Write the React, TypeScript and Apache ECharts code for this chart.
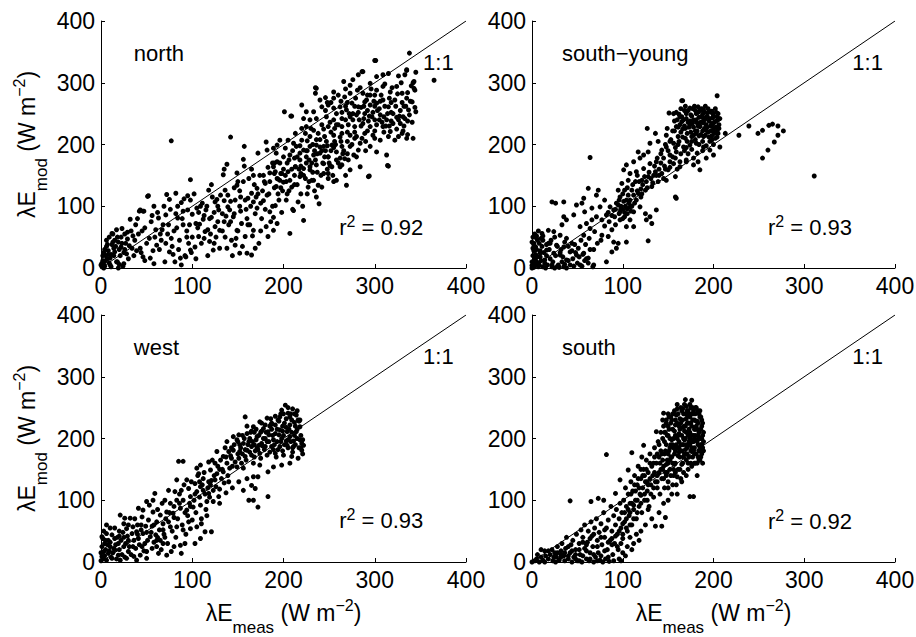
import React, { useEffect, useRef } from 'react';
import * as echarts from 'echarts';

const panelNames = ['north', 'south−young', 'west', 'south'];
const r2Values = ['0.92', '0.93', '0.93', '0.92'];
const tickValues = [0, 100, 200, 300, 400];
const oneToOne = [[0, 0], [400, 400]];
const xAxisTitle = '{a|λE}{sub|meas}{a| (W m}{sup|−2}{a|)}';
const yAxisTitle = '{a|λE}{sub|mod}{a| (W m}{sup|−2}{a|)}';

const northPts = [
[0,5],[2,12],[3,0],[5,20],[1,8],[4,3],[7,15],[8,28],[10,5],[12,38],[14,20],[6,35],[15,45],[18,10],[20,30],[22,50],[25,25],[27,40],[30,15],[9,50],[13,55],[17,62],[3,25],[11,2],[19,0],[24,3],[1,2],[3,9],[6,45],[10,16],[12,56],[15,26],[17,10],[22,34],[23,64],[25,7],[28,23],[32,79],[34,32],[37,45],[43,32],[43,94],[46,92],[46,18],[42,92],[47,92],[51,116],[52,117],[54,16],[58,7],[58,100],[61,37],[63,81],[65,55],[71,40],[71,86],[72,119],[75,26],[75,111],[77,206],[81,10],[82,88],[82,121],[84,81],[87,16],[88,5],[88,106],[90,92],[93,18],[95,94],[95,117],[98,29],[98,110],[98,143],[100,87],[103,34],[105,97],[107,51],[107,90],[108,71],[112,79],[114,59],[115,94],[116,100],[118,126],[119,43],[119,80],[122,115],[123,29],[125,67],[125,107],[127,111],[129,94],[130,32],[130,61],[134,151],[135,75],[135,109],[135,160],[136,126],[137,84],[138,32],[138,168],[139,99],[141,94],[142,212],[143,45],[145,83],[147,37],[147,110],[149,61],[149,134],[149,154],[152,24],[152,100],[152,125],[154,72],[156,176],[157,165],[157,197],[158,51],[160,24],[160,80],[161,113],[165,21],[165,121],[165,160],[167,61],[167,107],[169,32],[171,97],[171,129],[172,186],[173,40],[176,80],[178,109],[180,95],[180,137],[181,67],[181,204],[182,191],[183,51],[183,163],[185,91],[185,154],[189,61],[189,82],[189,194],[190,153],[191,101],[192,132],[192,186],[193,72],[194,144],[195,110],
[197,153],[200,139],[201,253],[203,110],[207,56],[208,246],[209,131],[211,93],[213,164],[216,107],[219,120],[219,153],[222,77],[227,131],[229,164],[231,142],[236,115],[238,134],[239,104],[240,196],[242,131],[249,153],[249,180],[251,166],[258,142],[258,188],[262,164],[269,134],
[338,348],[300,336],[286,318],[282,313],[266,302],[276,305],[273,296],[295,299],[302,310],[309,313],[315,315],[326,311],[333,313],[335,321],[343,302],[343,291],[236,291],[235,283],[246,276],[255,275],[260,280],[267,277],[273,283],[281,288],[287,283],[295,280],[302,288],[309,294],[317,285],[324,294],[330,283],[335,275],[341,269],[345,253],[337,256],[331,245],[326,240],[320,250],[315,261],[309,272],[302,267],[295,264],[289,269],[282,261],[275,267],[269,256],[262,261],[255,259],[249,264],[240,272],[242,261],[233,253],[225,253],[220,264],[209,246],[222,242],[229,240],[236,242],[247,245],[255,240],[264,242],[273,245],[280,248],[289,250],[297,245],[306,248],[313,240],[320,234],[328,234],[333,242],[330,218],[326,213],[335,210],[317,221],[309,229],[302,232],[295,229],[287,234],[278,229],[271,232],[264,229],[256,226],[249,229],[242,232],[233,223],[225,229],[220,226],[213,218],[205,207],[196,207],[193,199],[202,194],[211,202],[220,207],[229,213],[238,218],[245,213],[255,215],[264,218],[273,215],[280,213],[289,218],[298,215],[306,207],[315,213],[322,207],[313,183],[315,165],[294,149],[302,188],[295,197],[282,191],[284,202],[273,197],[264,197],[258,175],[253,199],[244,197],[236,199],[229,197],[222,191],[214,197],[207,183],[200,180],[193,172],[218,175],[225,180],[233,183],[240,186],[249,180],[267,177],[277,183],[284,164],[273,159],[264,167],[253,164],[244,169],[236,167],[229,159],[222,161],[213,164],[205,156],[198,153],[196,142],[207,142],[218,148],[233,142],[244,153],[255,140],[249,145],[191,156],[189,164],
[365,304],[344,288],[342,300],[345,317],[335,320],[301,336],[287,318],[235,292],[293,148],[314,166],[342,210],[336,216],
[285,260],[292,255],[298,252],[305,258],[311,262],[318,268],[323,262],[328,255],[332,262],[338,248],[300,240],[293,238],[310,245],[318,238],[283,240],[276,250],[268,240],[260,232],[252,220],[247,205],[240,208],[232,200],[226,190],[218,186],[212,178],[226,206],[270,205],[278,210],[290,205],[300,222],[310,220],[290,190],[280,180],[270,185],[262,178],[250,170],
[5,12],[8,22],[14,32],[19,42],[21,20],[26,55],[29,47],[33,60],[36,20],[38,70],[41,55],[44,25],[48,65],[50,40],[53,48],[55,75],[57,28],[60,62],[62,90],[66,45],[68,70],[70,10],[73,55],[76,95],[78,35],[80,60],[84,100],[86,45],[90,70],[92,20],[94,60],[96,40],[100,50],[102,120],[104,15],[106,65],[110,40],[111,105],[113,85],[117,20],[120,55],[121,135],[124,90],[126,50],[128,75],[131,118],[133,60],[140,70],[142,108],[144,20],[146,88],[148,48],[150,140],[153,115],[155,35],[159,95],[162,145],[163,70],[166,52],[168,135],[170,115],[174,150],[175,60],[177,125],[179,140],[184,120],[186,75],[188,170],[190,130],[194,120],[196,170],[198,90],[199,125],[202,150],[204,120],[206,175],[210,95],[212,150],[215,135],[217,160],[221,100],[224,145],[226,120],[228,175],[232,155],[234,125],[237,185],[241,150],[243,170],[246,190],[248,160],[252,190],[254,150],[257,200],[260,170],[263,205],[266,190],[268,150],[271,175],
[244,225],[251,236],[258,250],[263,270],[268,262],[272,250],[279,275],[284,292],[288,242],[291,272],[296,290],[299,270],[303,255],[307,280],[311,298],[314,250],[316,275],[319,292],[322,272],[325,282],[327,246],[329,300],[332,230],[334,262],[336,284],[339,270],[341,236],[344,260],[340,295],[331,222],[324,225],[316,230],[308,236],[300,210],[292,222],[286,210],[278,220],[270,220],[262,212],[256,205],[248,198],[242,190],[236,208],[230,226],[224,218],[218,198],[210,190],[204,170],[246,255],[252,268],[258,232],[264,252],[270,268],[276,240],[282,252],[288,262],[294,246],[300,262],[306,270],[312,230],[318,252],[324,244],[330,268],[336,238],[292,280],[278,262],[268,290],[255,285],[248,268],[300,280],[305,240],[285,230],[275,200],[265,185],[255,195],[245,180],[235,175],[225,170],
[104,72],[109,100],[113,48],[117,62],[121,82],[124,40],[128,100],[133,88],[136,50],[139,118],[142,75],[146,130],[150,60],[153,92],[156,140],[158,110],[161,70],[164,100],[167,150],[169,88],[172,120],[175,105],[178,150],[182,118],[185,140],[188,100],[190,170],[193,145],[197,130],[200,160],[203,140],[206,125],[209,160],[212,135],[215,180],[219,165],[222,150],[225,190],[228,140],[231,170],[234,190],[237,155],
[2,20],[4,30],[7,38],[9,8],[11,22],[13,42],[16,35],[18,50],[20,6],[23,40],[26,30],[29,58],[31,36],[35,52],[39,28],[40,80],[45,60],[48,12],[56,85],[59,50],[64,30],[67,62],[69,100],[74,70],[77,48],[79,22],[83,65],[85,30],[89,80],[91,112],[94,50],[97,70],[99,25]
];

const southYoungPts = [
[0,0],[1,3],[2,8],[3,15],[4,22],[5,30],[2,38],[6,45],[1,50],[8,5],[10,12],[12,2],[6,18],[9,28],[4,34],[14,8],[16,20],[3,55],[7,60],[12,52],[18,40],[20,15],[22,2],[25,0],[28,3],[30,1],[35,2],[33,10],[38,0],[42,5],[45,15],[50,8],[55,3],[58,12],[62,8],[48,25],[0,10],[1,20],[2,28],[0,42],[3,5],[5,10],[7,2],[9,18],[11,35],[13,25],[15,0],[17,5],[19,30],[21,45],[23,10],[26,20],[29,5],[31,25],[34,18],[36,6],[40,12],[44,28],[46,3],[52,18],[56,22],[60,15],[64,30],[0,4],[2,1],[4,12],[6,6],[8,40],[10,48],[5,52],[1,32],
[2,40],[3,18],[5,48],[7,8],[9,24],[11,56],[12,45],[14,13],[16,29],[18,61],[20,40],[22,5],[24,59],[24,24],[27,37],[29,2],[31,53],[31,21],[33,70],[35,83],[35,34],[38,78],[38,48],[38,13],[42,26],[44,40],[46,86],[49,102],[49,21],[51,32],[53,67],[53,5],[55,105],[57,113],[57,53],[57,24],[58,91],[60,72],[62,129],[62,16],[64,64],[64,179],[66,97],[66,78],[68,5],[69,59],[71,118],[71,83],[73,126],[75,99],[77,78],[77,53],[80,110],[82,86],[82,10],[84,51],[86,99],[88,26],[90,94],[90,42],[91,83],[93,105],[93,32],[95,126],[95,40],[97,115],[97,91],[97,78],[99,137],[101,159],[102,126],[102,83],[104,167],[104,110],[104,67],[104,42],[106,142],[108,153],[108,99],[108,78],[110,126],[112,172],[112,91],[112,67],[114,140],[115,156],[117,188],[117,121],[119,178],[119,99],[121,142],[123,183],[123,161],[125,126],[125,88],[126,78],[127,226],[128,188],[128,148],[130,202],[130,169],[130,83],[132,132],[132,72],[136,218],[136,156],[137,172],[137,94],[139,205],[139,140],[143,191],[143,153],[145,178],[148,215],[148,196],[148,142],[149,226],[150,159],[152,183],[156,250],[156,202],[156,169],[158,148],[158,115],[159,229],[159,188],[159,113],[161,213],[162,249],[163,164],[165,237],[166,271],[167,196],[169,226],[169,210],[170,242],[170,172],[174,259],[174,232],[174,199],[176,213],[178,240],[178,167],[181,250],[181,218],[181,202],[183,261],[183,172],[185,229],[185,159],[189,256],[189,242],[189,213],[189,196],[191,242],[192,223],[192,178],[196,253],[196,191],[198,234],[198,207],[200,221],[200,183],[204,279],[204,245],[205,218],[207,196],[213,218],[22,107],[26,105],[35,107],[67,2],[128,44],
[311,149],[277,222],[271,215],[267,204],[260,191],[254,178],[249,218],[254,223],[261,231],[265,233],[271,230],[239,230],[228,215],[165,271],[151,251],
[160,240],[165,245],[170,250],[172,236],[176,246],[180,255],[184,244],[186,236],[188,249],[190,240],[193,246],[195,238],[197,230],[199,243],[201,236],[203,228],[205,240],[178,228],[182,222],[186,216],[190,226],[194,220],[198,214],[202,210],[175,220],[171,205],[180,208],[184,200],[188,205],[192,198],[196,205],[200,200],[168,190],[172,185],[176,192],[162,205],[158,195],[155,180],[150,190],[164,220],[168,230],[174,238],[161,228],[166,212],[178,215],[185,230],[192,232],[200,225],[206,232],[204,222],[188,190],[182,186],[178,178],[170,175],[163,172],[160,160],[152,163],[146,165],[140,160],[135,165],[140,150],[145,145],[133,138],[127,130],[122,135],[118,140],[112,118],[108,110],[103,100],[98,95],[95,102],[100,120],[105,130],[110,100],[115,110],[120,115],[182,235],[187,258],[194,252],[199,250],[203,252],[191,262],[183,252],[177,258],[168,255],[163,232],[157,222],[153,208],[147,200],[142,185],[138,178],[134,150],[129,155],[124,148],[120,128],[116,150],[111,135],[106,118],[101,108],[96,88],[92,70],[88,62],[85,75],[80,68],[76,45],[72,40],[68,30],[63,48],[59,38],[54,45],[47,38],[40,35],[36,42],[32,30],[28,35],[25,50],[16,38],[100,95],[102,90],[98,100],[105,96],[107,105],
[152,205],[155,222],[157,238],[159,252],[161,200],[163,245],[164,258],[166,225],[167,240],[169,262],[171,218],[172,255],[173,228],[175,248],[177,235],[179,262],[180,222],[181,240],[183,230],[184,214],[185,255],[187,245],[188,222],[189,235],[190,252],[191,215],[192,244],[193,228],[194,258],[195,212],[196,242],[197,222],[198,254],[199,232],[200,246],[201,218],[202,258],[203,238],[204,212],[205,250],[206,226],[207,242],[176,205],[170,195],[164,185],[158,178],[152,172],[147,160],[142,170],[137,150],[131,145],[126,140],[121,120],[116,125],[113,105],[109,92],[105,88],[100,80],[96,110],[92,95],[88,85],[84,90]
];

const westPts = [
[202,254],[198,246],[205,241],[214,238],[216,230],[196,235],[191,236],[182,233],[158,235],[174,227],[187,225],[207,222],[218,219],[214,211],[204,211],[196,214],[191,208],[183,211],[178,216],[167,219],[160,208],[151,206],[145,203],[138,195],[149,198],[156,192],[163,200],[171,203],[180,200],[189,198],[198,200],[207,203],[218,198],[222,189],[220,181],[211,187],[204,189],[196,187],[187,187],[180,187],[173,189],[165,187],[160,181],[152,179],[145,181],[140,179],[127,179],[134,171],[143,168],[151,168],[158,171],[165,173],[174,176],[182,173],[191,176],[200,173],[209,171],[216,168],[207,160],[198,157],[189,154],[183,146],[174,157],[167,160],[156,152],[149,154],[141,152],[134,146],[127,143],[120,149],[118,162],[109,157],[105,152],[107,143],[112,135],[118,130],[125,133],[132,135],[140,130],[151,130],[160,135],[167,138],[172,138],[169,119],[165,124],[156,116],[162,100],[183,106],[172,89],[85,163],[90,163],[83,133],[94,133],[96,119],[88,116],[81,114],[74,116],[70,100],[76,95],[83,100],[90,100],[98,106],[105,114],[109,122],[103,127],[112,116],[118,111],[123,116],[129,106],[123,98],[116,98],[109,92],[101,89],[94,84],[87,87],[79,79],[72,81],[65,76],[57,81],[59,111],[57,100],[50,98],[46,84],[41,87],[45,73],[52,68],[61,65],[68,62],[76,57],[83,57],[90,52],[98,54],[105,57],[114,49],[121,49],[109,38],[103,30],[87,27],[88,14],[77,17],[72,11],[63,14],[56,22],[48,30],[41,38],[34,46],[28,54],[25,62],[26,71],[21,76],[32,71],[35,57],[39,49],[46,46],[54,41],[61,35],[68,30],[61,25],[50,17],[43,11],[36,9],[30,17],[25,25],[19,30],[15,38],[12,44],[8,35],[4,30],[1,25],[3,17],[8,14],[14,22],[19,11],[12,6],[6,3],[1,9],[21,3],[28,6],[39,3],[50,6],[1,41],[6,46],[167,100],
[0,2],[2,5],[4,10],[5,20],[7,28],[9,18],[10,32],[11,8],[13,15],[16,28],[17,5],[18,40],[20,20],[22,35],[23,12],[24,48],[26,8],[27,30],[29,42],[31,25],[33,12],[36,35],[38,22],[40,60],[42,28],[44,52],[47,18],[49,58],[51,35],[53,92],[55,48],[58,60],[60,44],[62,85],[64,52],[66,20],[67,95],[69,45],[71,70],[73,30],[75,80],[78,50],[80,90],[82,40],[84,70],[86,110],[89,60],[91,125],[93,45],[95,75],[97,95],[99,130],[100,68],[102,100],[104,80],[106,140],[108,105],[110,70],[111,125],[113,145],[115,85],[117,120],[119,105],[121,132],[122,165],[124,140],[126,122],[128,155],[130,118],[131,165],[133,150],[135,128],[136,185],[138,160],[139,140],[142,172],[144,155],[146,190],[147,162],[150,175],[153,185],[154,160],[157,200],[159,165],[161,190],[163,178],[164,210],[166,195],[168,170],[170,215],[171,185],[173,205],[175,168],[176,192],[178,200],[179,182],[181,210],[184,195],[185,178],[186,222],[188,205],[190,190],[192,170],[193,215],[194,182],[195,228],[197,195],[199,180],[200,205],[201,225],[203,196],[205,185],[206,215],[208,195],[209,230],[210,178],[212,205],[213,190],[215,215],[217,185],[219,205],[220,192],[221,175],[215,245],[210,248],[208,240],[212,226],[203,232],[199,220],[186,232],[176,212],[169,180],[155,175],[144,120],[137,112],[130,95],[116,75],[110,62],[96,65],[92,30],[80,25],[70,40],[65,35],[58,32],[44,60],[37,70],[30,60],[20,50],[15,55],[10,55],[6,60],[3,50],[2,38],[0,15],
[152,190],[155,205],[158,182],[162,195],[165,212],[168,190],[170,198],[172,182],[175,210],[177,188],[180,222],[182,195],[184,206],[187,215],[189,182],[191,222],[193,195],[195,206],[197,240],[199,212],[201,190],[203,218],[205,198],[207,235],[209,210],[211,196],[213,220],[215,200],[217,228],[219,185],[221,198],[210,185],[200,240],[205,250],[212,240],[218,230],[194,230],[185,220],[176,225],[168,210],[160,220],[150,195],[143,185],[137,170],[130,150],[125,160],[120,125],[114,110],[108,130],[103,110],[98,90],[92,80],[86,95],[80,72],[74,65],[68,52],[62,40],[56,58],[50,48],[45,25],[40,45],[35,25],[30,35],[25,40],[20,42],[15,20],[10,25],[5,35]
];

const southPts = [
[0,0],[3,2],[5,5],[8,0],[10,8],[12,3],[15,10],[14,18],[18,5],[20,12],[22,20],[23,2],[25,15],[27,8],[28,25],[30,3],[32,18],[33,30],[35,10],[37,22],[38,40],[40,5],[42,15],[42,99],[43,28],[45,35],[46,8],[48,20],[49,45],[50,2],[52,30],[53,12],[54,52],[55,0],[56,40],[58,22],[58,60],[60,5],[61,32],[62,50],[63,2],[64,15],[65,65],[65,98],[66,42],[67,25],[68,0],[69,55],[70,8],[71,70],[72,35],[73,103],[73,15],[74,48],[75,3],[76,62],[77,28],[78,0],[79,100],[79,80],[80,40],[81,5],[82,174],[82,55],[83,20],[84,68],[85,1],[86,35],[87,90],[88,50],[89,12],[90,75],[91,30],[92,111],[92,60],[93,85],[94,45],[95,20],[96,70],[97,133],[97,95],[98,2],[98,55],[99,80],[100,38],
[101,100],[102,65],[103,120],[104,90],[105,50],[106,149],[106,110],[107,75],[108,95],[109,130],[110,177],[110,60],[111,115],[112,85],[113,140],[114,100],[115,70],[116,125],[117,155],[118,90],[119,110],[120,135],[121,170],[121,80],[122,120],[123,189],[123,150],[124,100],[125,130],[126,165],[127,115],[128,145],[129,90],[130,175],[131,125],[132,155],[133,140],[134,105],[135,185],[136,58],[136,130],[137,211],[137,160],[138,120],[139,195],[140,145],[140,170],[141,110],[142,180],[143,58],[143,135],[144,230],[144,200],[145,241],[145,155],[146,175],[146,120],[147,72],[147,210],[148,140],[148,190],[149,165],[150,220],[150,130],[151,180],[152,200],[152,150],[153,235],[153,170],[154,110],[155,190],[155,215],[156,140],[157,245],[157,175],[158,205],[158,160],[159,125],[160,225],[160,185],[161,150],[161,240],[162,195],[163,170],[163,215],[164,135],[164,250],[165,180],[165,205],[166,160],[166,230],[167,190],[167,145],[168,220],[168,175],[169,263],[169,240],[169,200],[170,165],[170,210],[171,185],[171,245],[172,150],[172,225],[173,195],[173,170],[174,106],[174,235],[174,210],[175,180],[175,250],[176,155],[176,220],[177,195],[177,170],[178,106],[178,240],[178,205],[179,185],[179,230],[180,160],[180,215],[181,175],[181,250],[182,195],[182,140],[183,225],[183,205],[184,180],[184,240],[185,165],[185,200],[186,215],[186,190],[187,175],[187,230],[188,185],[188,205],[189,195],
[160,110],[155,125],[150,100],[145,95],[140,80],[132,70],[128,85],[125,60],[120,50],[118,35],[115,45],[112,30],[110,20],[108,40],[105,25],[103,10],[100,15],[98,30],[96,5],[94,25],[90,2],[88,28],[84,8],[80,18],[76,10],[72,2],[68,12],[64,5],[60,18],[56,10],[52,2],[48,5],[44,0],[40,10],[36,2],[32,8],[26,0],[18,18],[14,0],[10,20],[6,12],
[158,230],[162,220],[166,248],[170,232],[173,215],[176,240],[179,200],[182,215],[185,235],[162,178],[167,200],[171,175],[175,195],[179,160],[183,190],[186,170],[154,198],[150,175],[148,158],[156,185],[153,140],[149,145],[142,150],[138,140],[135,145],[131,110],[127,100],[124,110],[120,95],[116,80],[112,70],[108,60],[104,55],[100,45],
[140,190],[141,160],[142,210],[143,175],[144,150],[145,220],[146,195],[147,180],[148,230],[149,205],[150,160],[151,215],[152,185],[153,225],[154,170],[155,240],[156,200],[157,158],[158,222],[159,190],[160,248],[161,172],[162,208],[163,232],[164,190],[165,158],[166,218],[167,240],[168,198],[169,182],[170,252],[171,225],[172,205],[173,240],[174,190],[175,225],[176,205],[177,250],[178,180],[179,215],[180,240],[181,198],[182,228],[183,170],[184,210],[185,245],[186,182],[187,220],[188,160],[189,210],[170,140],[165,130],[160,138],[158,145],[150,120],[145,135],[138,130],[134,120],[130,135],[127,130],[122,140],[118,120],[114,115],[110,95],[106,85],[102,80],[130,160],[135,170],[126,150],[120,108],[116,100],[112,92],[108,80],[104,70],[100,62],[96,50],[92,42],[88,38],[84,32],[80,52],[76,40],[72,25],[68,45],[64,38],[60,28],[56,32],[52,20],[48,12],[44,18],[40,25],[36,15],[32,12],[28,15],[24,8],
[146,210],[148,225],[151,235],[153,190],[155,160],[157,212],[159,238],[161,205],[162,185],[164,225],[165,245],[167,170],[168,212],[170,190],[171,238],[172,160],[173,225],[174,200],[176,185],[177,230],[178,245],[179,175],[180,205],[181,228],[182,160],[183,245],[184,200],[185,185],[186,235],[187,200],[188,225],[189,180],[144,165],[147,145],[150,205],[152,165],[154,230],[156,150],[158,180],[160,200],[163,150],[166,190],[169,220],[172,245],[175,160],[178,195],[181,220],[184,165],[187,190],[168,255],[174,255],[180,250],[176,262],[160,255],[150,240],[138,175],[134,160],[128,125],[124,140],[120,150],[117,135],[113,125],[109,110]
];

const panelPoints = [northPts, southYoungPts, westPts, southPts];

// annotation anchors, in data units
const nameAnchors = [[36, 348], [33, 348], [36, 348], [33, 348]];
const oneToOneAnchor = [353, 332];
const r2Anchors = [[261, 66], [260, 66], [261, 68], [260, 65]];

const FONT = '"Liberation Sans", Arial, Helvetica, sans-serif';

export default function App() {
  const ref = useRef<HTMLDivElement>(null);

  useEffect(() => {
    const chart = echarts.init(ref.current!, null, { renderer: 'svg' });

    const grids = [
      { left: 101, top: 21, width: 365, height: 247 },
      { left: 532, top: 21, width: 363, height: 247 },
      { left: 101, top: 315, width: 365, height: 247 },
      { left: 532, top: 315, width: 363, height: 247 },
    ].map((g) => ({ ...g, containLabel: false, outerBoundsMode: 'none', show: false }));

    const titleRich = {
      a: { fontSize: 23, lineHeight: 44, fontFamily: FONT, color: '#000' },
      sub: { fontSize: 17, height: 16, verticalAlign: 'bottom', fontFamily: FONT, color: '#000' },
      sup: { fontSize: 16, height: 28, verticalAlign: 'top', fontFamily: FONT, color: '#000' },
    };

    const axisBase = (i: number) => ({
      type: 'value',
      gridIndex: i,
      min: tickValues[0],
      max: tickValues[tickValues.length - 1],
      interval: tickValues[1] - tickValues[0],
      axisLine: { show: true, onZero: false, lineStyle: { color: '#000', width: 1 } },
      axisTick: { show: true, inside: true, length: 4, lineStyle: { color: '#000', width: 1 } },
      axisLabel: {
        show: true, color: '#000', fontSize: 23, fontFamily: FONT, margin: 6,
        showMinLabel: true, showMaxLabel: true, hideOverlap: false,
      },
      splitLine: { show: false },
    });

    const xAxes = [0, 1, 2, 3].map((i) => ({
      ...axisBase(i),
      position: 'bottom',
      name: i >= 2 ? xAxisTitle : '',
      nameLocation: 'middle',
      nameGap: 29,
      nameMoveOverlap: false,
      nameTextStyle: { rich: titleRich },
    }));
    const yAxes = [0, 1, 2, 3].map((i) => ({
      ...axisBase(i),
      position: 'left',
      name: i % 2 === 0 ? yAxisTitle : '',
      nameLocation: 'middle',
      nameGap: 52,
      nameMoveOverlap: false,
      nameTextStyle: { rich: titleRich },
    }));

    const series: any[] = [];
    for (let i = 0; i < 4; i++) {
      series.push({
        type: 'line',
        xAxisIndex: i,
        yAxisIndex: i,
        data: oneToOne,
        showSymbol: false,
        symbol: 'none',
        silent: true,
        lineStyle: { color: '#000', width: 1 },
        z: 2,
      });
      series.push({
        type: 'scatter',
        xAxisIndex: i,
        yAxisIndex: i,
        data: panelPoints[i],
        symbol: 'circle',
        symbolSize: 5,
        silent: true,
        itemStyle: { color: '#000', opacity: 1 },
        z: 3,
      });
      const texts = [
        { value: nameAnchors[i], txt: panelNames[i] },
        { value: oneToOneAnchor, txt: '1:1' },
        { value: r2Anchors[i], txt: '{a|r}{s|2}{a| = ' + r2Values[i] + '}' },
      ];
      series.push({
        type: 'scatter',
        xAxisIndex: i,
        yAxisIndex: i,
        data: texts.map((t) => t.value),
        symbol: 'circle',
        symbolSize: 0,
        silent: true,
        itemStyle: { color: '#000' },
        z: 5,
        label: {
          show: true,
          position: 'right',
          distance: 0,
          color: '#000',
          opacity: 1,
          textBorderWidth: 0,
          fontSize: 22,
          fontFamily: FONT,
          formatter: (p: any) => texts[p.dataIndex].txt,
          rich: {
            a: { fontSize: 22, lineHeight: 30, fontFamily: FONT, color: '#000' },
            s: { fontSize: 16, height: 18, verticalAlign: 'top', fontFamily: FONT, color: '#000' },
          },
        },
      });
    }

    chart.setOption({
      animation: false,
      backgroundColor: '#fff',
      grid: grids,
      xAxis: xAxes,
      yAxis: yAxes,
      series,
    });

    return () => chart.dispose();
  }, []);

  return (
    <div
      ref={ref}
      style={{ position: 'fixed', left: 0, top: 0, width: 916, height: 637, background: '#fff' }}
    />
  );
}
